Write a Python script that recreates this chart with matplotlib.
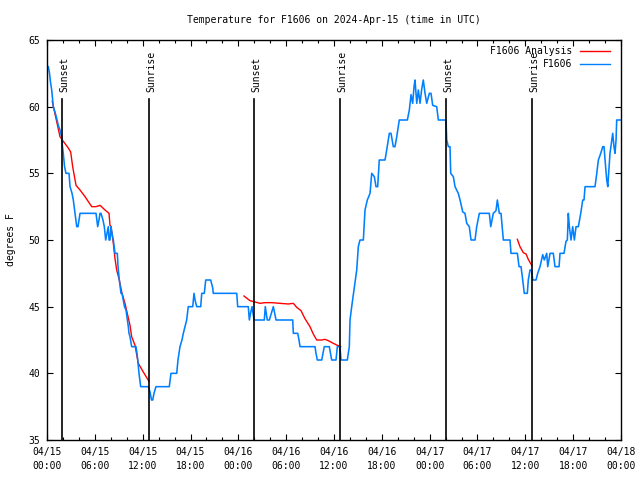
import matplotlib
matplotlib.use("Agg")
import matplotlib.pyplot as plt
from matplotlib.ticker import MultipleLocator

# hours since 2024-04-15 00:00 UTC
obs_hours = [0.16, 0.29, 0.46, 0.59, 0.79, 1.00, 1.22, 1.42, 1.63, 1.84, 1.94, 2.04, 2.20, 2.38,
             2.76, 2.89, 3.14, 3.30, 3.51, 3.73, 3.89, 4.14, 6.15, 6.36, 6.52, 6.65, 6.77, 7.02,
             7.19, 7.36, 7.53, 7.69, 7.78, 7.90, 8.03, 8.15, 8.32, 8.53, 8.82, 8.91, 9.07, 9.28,
             9.41, 9.57, 9.72, 9.91, 10.20, 10.29, 10.41, 10.62, 11.16, 11.29, 11.38, 11.54, 11.75,
             12.71, 12.92, 13.11, 13.26, 13.42, 13.67, 15.34, 15.55, 16.27, 16.43, 16.68, 16.93,
             17.10, 17.31, 17.52, 17.72, 18.28, 18.44, 18.57, 18.78, 19.28, 19.41, 19.73, 19.91,
             20.53, 20.79, 20.86, 23.80, 23.92, 25.25, 25.38, 25.53, 25.72, 25.97, 26.22, 27.26,
             27.38, 27.63, 27.89, 28.39, 28.73, 30.82, 30.90, 31.45, 31.61, 31.74, 33.62, 33.74,
             33.91, 34.46, 34.78, 35.41, 35.71, 36.25, 36.42, 36.75, 36.88, 37.67, 37.92, 38.01,
             38.22, 38.51, 38.85, 39.05, 39.26, 39.68, 39.89, 40.18, 40.52, 40.73, 41.06, 41.27,
             41.48, 41.68, 42.40, 42.61, 42.94, 43.15, 43.44, 43.65, 43.87, 44.19, 45.20, 45.45,
             45.66, 45.87, 46.04, 46.16, 46.38, 46.58, 46.79, 47.00, 47.20, 47.42, 47.63, 47.96,
             48.17, 48.38, 48.88, 49.09, 50.05, 50.14, 50.34, 50.55, 50.64, 50.97, 51.18, 51.59,
             51.81, 52.15, 52.43, 52.65, 52.97, 53.19, 53.69, 53.90, 54.23, 55.48, 55.66, 55.98,
             56.32, 56.49, 56.74, 56.95, 57.16, 57.24, 58.08, 58.20, 59.00, 59.21, 59.46, 59.62,
             59.87, 60.25, 60.37, 60.59, 60.78, 60.93, 61.34, 61.55, 61.84, 62.18, 62.38, 62.68,
             62.81, 63.10, 63.51, 63.72, 64.23, 64.35, 64.85, 65.10, 65.27, 65.39, 65.52, 65.73,
             65.94, 66.15, 66.36, 66.65, 66.95, 67.20, 67.36, 67.49, 68.74, 68.96, 69.16, 69.46,
             69.71, 69.87, 70.00, 70.21, 70.34, 70.50, 70.62, 70.84, 70.96, 71.12, 71.25, 71.38,
             71.46, 72.00]
obs_temp = [63.0, 62.6, 61.75, 61.25, 60.0, 59.6, 59.1, 58.6, 58.25, 57.75, 57.0, 56.5, 55.5, 55.0,
            55.0, 54.0, 53.5, 53.0, 52.0, 51.0, 51.0, 52.0, 52.0, 51.0, 51.5, 52.0, 52.0, 51.5,
            51.0, 50.0, 50.5, 51.0, 50.0, 50.0, 51.0, 50.5, 50.0, 49.0, 49.0, 48.0, 47.0, 46.0,
            46.0, 45.5, 45.0, 44.75, 43.5, 43.0, 42.75, 42.0, 42.0, 41.5, 41.0, 40.0, 39.0,
            39.0, 38.6, 38.0, 38.0, 38.5, 39.0, 39.0, 40.0, 40.0, 41.0, 42.0, 42.5,
            43.0, 43.5, 44.0, 45.0, 45.0, 46.0, 45.5, 45.0, 45.0, 46.0, 46.0, 47.0,
            47.0, 46.4, 46.0, 46.0, 45.0, 45.0, 44.0, 44.5, 45.0, 44.0, 44.0, 44.0,
            45.0, 44.0, 44.0, 45.0, 44.0, 44.0, 43.0, 43.0, 42.5, 42.0, 42.0, 41.5,
            41.0, 41.0, 42.0, 42.0, 41.0, 41.0, 42.0, 42.0, 41.0, 41.0, 42.0, 44.0,
            45.0, 46.25, 47.75, 49.5, 50.0, 50.0, 52.25, 53.0, 53.5, 55.0, 54.75, 54.0,
            54.0, 56.0, 56.0, 56.75, 58.0, 58.0, 57.0, 57.0, 57.75, 59.0, 59.0, 59.75,
            60.9, 60.25, 61.5, 62.0, 60.25, 61.25, 60.25, 61.3, 62.0, 61.0, 60.25, 61.0,
            61.0, 60.1, 60.0, 59.0, 59.0, 57.5, 57.0, 57.0, 55.0, 54.75, 54.0, 53.5,
            53.0, 52.1, 52.0, 51.25, 51.0, 50.0, 50.0, 51.0, 52.0, 52.0, 51.0, 52.0,
            52.2, 53.0, 52.0, 52.0, 50.5, 50.0, 50.0, 49.0, 49.0, 48.0, 48.0, 47.25,
            46.0, 46.0, 47.0, 47.75, 47.75, 47.0, 47.0, 47.5, 48.0, 48.9, 48.5, 49.0,
            48.0, 49.0, 49.0, 48.0, 48.0, 49.0, 49.0, 49.9, 50.0, 52.0, 51.0, 50.0,
            51.0, 50.0, 51.0, 51.0, 52.0, 53.0, 53.0, 54.0, 54.0, 55.0, 56.0, 56.5,
            57.0, 57.0, 56.0, 54.5, 54.0, 55.5, 56.5, 57.5, 58.0, 57.0, 56.5, 57.5,
            59.0, 59.0]

ana1_hours = [0.66, 1.63, 1.92, 2.67, 2.97, 3.22, 3.64, 4.14, 4.77, 5.61, 6.15, 6.65, 7.28, 7.78,
              7.90, 8.03, 8.32, 8.53, 8.74, 9.07, 9.37, 9.78, 10.07, 10.41, 10.62, 11.04, 11.45,
              12.08, 12.79]
ana1_temp = [60.4, 57.75, 57.5, 56.9, 56.6, 55.5, 54.1, 53.75, 53.25, 52.5, 52.5, 52.6, 52.25, 52.0,
             51.1, 51.0, 49.75, 48.6, 47.75, 47.0, 46.1, 45.25, 44.5, 43.6, 42.75, 42.1, 40.75,
             40.1, 39.4]
ana2_hours = [24.71, 25.46, 26.72, 27.35, 28.19, 29.23, 30.27, 30.90, 31.32, 31.86, 32.36, 32.99,
              33.40, 33.83, 34.46, 34.87, 35.29, 35.91, 36.42, 36.84]
ana2_temp = [45.8, 45.45, 45.25, 45.3, 45.3, 45.25, 45.2, 45.25, 44.95, 44.7, 44.1, 43.5,
             42.95, 42.5, 42.5, 42.55, 42.45, 42.25, 42.1, 42.0]
ana3_hours = [59.00, 59.33, 59.75, 60.09, 60.37, 60.80]
ana3_temp = [50.05, 49.5, 49.05, 48.95, 48.55, 48.1]

sun_hours = [1.88, 12.79, 25.97, 36.75, 50.05, 60.84]
sun_labels = ["Sunset", "Sunrise", "Sunset", "Sunrise", "Sunset", "Sunrise"]

xtick_hours = list(range(0, 73, 6))
xtick_labels = ["04/15\n00:00", "04/15\n06:00", "04/15\n12:00", "04/15\n18:00",
                "04/16\n00:00", "04/16\n06:00", "04/16\n12:00", "04/16\n18:00",
                "04/17\n00:00", "04/17\n06:00", "04/17\n12:00", "04/17\n18:00",
                "04/18\n00:00"]

FONT = "DejaVu Sans Mono"
FS = 7

fig = plt.figure(figsize=(6.4, 4.8), dpi=100)
ax = fig.add_axes([47/640, 40/480, 574/640, 400/480])

red_line, = ax.plot(ana1_hours, ana1_temp, color="#ff0000", lw=1.0, label="F1606 Analysis")
ax.plot(ana2_hours, ana2_temp, color="#ff0000", lw=1.0)
ax.plot(ana3_hours, ana3_temp, color="#ff0000", lw=1.0)
blue_line, = ax.plot(obs_hours, obs_temp, color="#0080ff", lw=1.15, label="F1606")

for h, lab in zip(sun_hours, sun_labels):
    ax.plot([h, h], [35, 60.6], color="black", lw=1.2)
    ax.text(h + 0.3, 61.1, lab, rotation=90, ha="center", va="bottom",
            fontsize=FS, family=FONT)

ax.set_xlim(0, 72)
ax.set_ylim(35, 65)
ax.set_xticks(xtick_hours)
ax.set_xticklabels(xtick_labels, family=FONT, fontsize=FS, linespacing=1.5)
ax.xaxis.set_minor_locator(MultipleLocator(2))
ax.set_yticks(range(35, 66, 5))
ax.set_yticklabels([str(v) for v in range(35, 66, 5)], family=FONT, fontsize=FS)
ax.tick_params(which="both", direction="in", top=True, right=True, width=0.8)
ax.tick_params(which="major", length=4, pad=5)
ax.tick_params(which="minor", length=2.5)
for s in ax.spines.values():
    s.set_linewidth(1.0)

ax.set_ylabel("degrees F", family=FONT, fontsize=FS, labelpad=9)
ax.set_title("Temperature for F1606 on 2024-Apr-15 (time in UTC)",
             family=FONT, fontsize=FS, pad=12)

leg = ax.legend(handles=[red_line, blue_line], loc="upper right",
                bbox_to_anchor=(1 - 11/574, 1 - 6/400), frameon=False,
                markerfirst=False, prop={"family": FONT, "size": FS},
                handlelength=3.1, handletextpad=0.8, labelspacing=0.3,
                borderpad=0, borderaxespad=0)
for line in leg.get_lines():
    line.set_linewidth(1.0)

fig.savefig("out.png", dpi=100)
